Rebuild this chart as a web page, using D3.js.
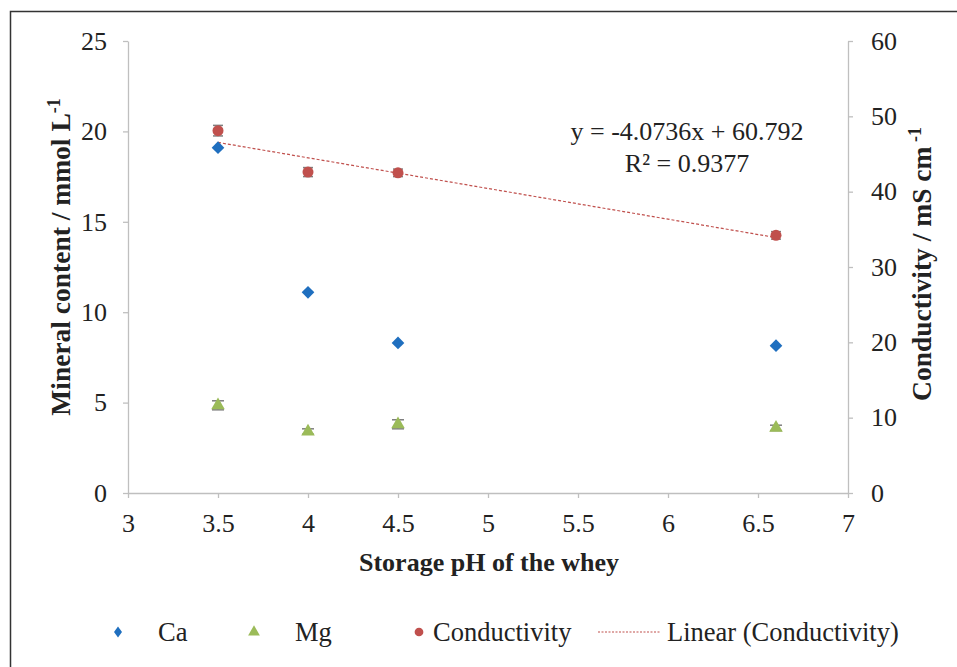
<!DOCTYPE html>
<html>
<head>
<meta charset="utf-8">
<script src="https://cdn.jsdelivr.net/npm/d3@7"></script>
<style>
  body { margin: 0; background: #fff; }
  svg { display: block; font-family: "Liberation Serif", "Times New Roman", serif; }
</style>
</head>
<body>
<svg></svg>
<script>
// Chart data
const phValues = [3.5, 4, 4.5, 6.6];
const caValues = [19.1, 11.1, 8.3, 8.15];
const caErrors = [0.12, 0.1, 0.1, 0.1];
const mgValues = [4.85, 3.4, 3.8, 3.6];
const mgErrors = [0.25, 0.15, 0.25, 0.15];
const condValues = [48.1, 42.6, 42.5, 34.2];
const condErrors = [0.7, 0.6, 0.5, 0.5];
const trendSlope = -4.0736;
const trendIntercept = 60.792;
const xTicks = [3, 3.5, 4, 4.5, 5, 5.5, 6, 6.5, 7];
const leftTicks = [0, 5, 10, 15, 20, 25];
const rightTicks = [0, 10, 20, 30, 40, 50, 60];

const width = 957;
const height = 667;
const fontSize = "26px";
const titleSize = "27.5px";
const serif = "'Liberation Serif', 'Times New Roman', serif";

const svg = d3.select("svg")
    .attr("width", width)
    .attr("height", height);

// Outer frame (runs off the right and bottom edges)
svg.append("rect")
    .attr("x", 10.5)
    .attr("y", 11.5)
    .attr("width", width)
    .attr("height", height)
    .attr("fill", "none")
    .attr("stroke", "#333")
    .attr("stroke-width", 1.5);

// Scales
const x = d3.scaleLinear().domain([3, 7]).range([128, 848]);
const yLeft = d3.scaleLinear().domain([0, 25]).range([493, 41]);
const yRight = d3.scaleLinear().domain([0, 60]).range([493, 41]);

const axisColor = "#bfbfbf";

function styleAxis(g) {
    g.attr("font-family", serif).attr("font-size", fontSize);
    g.selectAll("path").attr("stroke", axisColor).attr("stroke-width", 1.3);
    g.selectAll("line").attr("stroke", axisColor).attr("stroke-width", 1.3);
    g.selectAll("text").attr("fill", "#222");
}

// X axis
svg.append("g")
    .attr("transform", "translate(0,493)")
    .call(d3.axisBottom(x).tickValues(xTicks).tickSize(5).tickSizeOuter(0).tickPadding(16).tickFormat(d3.format("")))
    .call(styleAxis);

// Left axis
svg.append("g")
    .attr("transform", "translate(128,0)")
    .call(d3.axisLeft(yLeft).tickValues(leftTicks).tickSize(5).tickSizeOuter(0).tickPadding(16))
    .call(styleAxis);

// Right axis
svg.append("g")
    .attr("transform", "translate(848,0)")
    .call(d3.axisRight(yRight).tickValues(rightTicks).tickSize(5).tickSizeOuter(0).tickPadding(18))
    .call(styleAxis);

// Axis titles
svg.append("text")
    .attr("x", 489)
    .attr("y", 571)
    .attr("text-anchor", "middle")
    .style("font-size", fontSize)
    .style("font-weight", "bold")
    .attr("fill", "#222")
    .text("Storage pH of the whey");

const leftTitle = svg.append("text")
    .attr("transform", "translate(70,257) rotate(-90)")
    .attr("text-anchor", "middle")
    .style("font-size", titleSize)
    .style("font-weight", "bold")
    .attr("fill", "#222");
leftTitle.append("tspan").text("Mineral content / mmol L");
leftTitle.append("tspan").attr("dy", -10).style("font-size", "18px").text("-1");

const rightTitle = svg.append("text")
    .attr("transform", "translate(931,264) rotate(-90)")
    .attr("text-anchor", "middle")
    .style("font-size", titleSize)
    .style("font-weight", "bold")
    .attr("fill", "#222");
rightTitle.append("tspan").text("Conductivity / mS cm");
rightTitle.append("tspan").attr("dy", -10).style("font-size", "18px").text(" -1");

// Colors
const caColor = "#1f6fbf";
const mgColor = "#9bbb59";
const condColor = "#c0504d";
const errColor = "#7f7f7f";

// Error bars
function drawErrors(values, errors, yScale, capHalf) {
    const g = svg.append("g");
    values.forEach((v, i) => {
        const cx = x(phValues[i]);
        const y1 = yScale(v + errors[i]);
        const y2 = yScale(v - errors[i]);
        g.append("line").attr("x1", cx).attr("x2", cx).attr("y1", y1).attr("y2", y2)
            .attr("stroke", errColor).attr("stroke-width", 1.2);
        [y1, y2].forEach(yy => {
            g.append("line").attr("x1", cx - capHalf).attr("x2", cx + capHalf).attr("y1", yy).attr("y2", yy)
                .attr("stroke", errColor).attr("stroke-width", 1.5);
        });
    });
}
drawErrors(caValues, caErrors, yLeft, 2);
drawErrors(mgValues, mgErrors, yLeft, 6);
drawErrors(condValues, condErrors, yRight, 5);

// Trendline
svg.append("line")
    .attr("x1", x(3.5))
    .attr("y1", yRight(trendSlope * 3.5 + trendIntercept))
    .attr("x2", x(6.6))
    .attr("y2", yRight(trendSlope * 6.6 + trendIntercept))
    .attr("stroke", condColor)
    .attr("stroke-width", 1.2)
    .attr("stroke-dasharray", "3,2");

// Markers
const diamond = d3.symbol().type(d3.symbolSquare).size(80);
const triangle = d3.symbol().type(d3.symbolTriangle).size(80);
const circle = d3.symbol().type(d3.symbolCircle).size(95);

svg.append("g").selectAll("path")
    .data(caValues)
    .enter()
    .append("path")
    .attr("d", diamond)
    .attr("transform", (d, i) => `translate(${x(phValues[i])},${yLeft(d)}) rotate(45)`)
    .attr("fill", caColor);

svg.append("g").selectAll("path")
    .data(mgValues)
    .enter()
    .append("path")
    .attr("d", triangle)
    .attr("transform", (d, i) => `translate(${x(phValues[i])},${yLeft(d)})`)
    .attr("fill", mgColor);

svg.append("g").selectAll("path")
    .data(condValues)
    .enter()
    .append("path")
    .attr("d", circle)
    .attr("transform", (d, i) => `translate(${x(phValues[i])},${yRight(d)})`)
    .attr("fill", condColor);

// Trend equation
svg.append("text")
    .attr("x", 687)
    .attr("y", 140)
    .attr("text-anchor", "middle")
    .style("font-size", fontSize)
    .attr("fill", "#222")
    .text(`y = ${trendSlope}x + ${trendIntercept}`);
svg.append("text")
    .attr("x", 687)
    .attr("y", 172)
    .attr("text-anchor", "middle")
    .style("font-size", fontSize)
    .attr("fill", "#222")
    .text("R² = 0.9377");

// Legend
const legendY = 632;
const legendSize = "26.5px";
const legend = svg.append("g");
legend.append("path").attr("d", d3.symbol().type(d3.symbolSquare).size(50))
    .attr("transform", `translate(118,${legendY}) scale(0.8,1.1) rotate(45)`).attr("fill", caColor);
legend.append("text").attr("x", 158).attr("y", legendY + 9).style("font-size", legendSize).attr("fill", "#222").text("Ca");
legend.append("path").attr("d", d3.symbol().type(d3.symbolTriangle).size(60))
    .attr("transform", `translate(254,${legendY})`).attr("fill", mgColor);
legend.append("text").attr("x", 295).attr("y", legendY + 9).style("font-size", legendSize).attr("fill", "#222").text("Mg");
legend.append("path").attr("d", d3.symbol().type(d3.symbolCircle).size(60))
    .attr("transform", `translate(419,${legendY})`).attr("fill", condColor);
legend.append("text").attr("x", 433).attr("y", legendY + 9).style("font-size", legendSize).attr("fill", "#222").text("Conductivity");
legend.append("line").attr("x1", 598).attr("x2", 660).attr("y1", legendY).attr("y2", legendY)
    .attr("stroke", condColor).attr("stroke-width", 1.2).attr("stroke-dasharray", "2,1.5");
legend.append("text").attr("x", 667).attr("y", legendY + 9).style("font-size", legendSize).attr("fill", "#222").text("Linear (Conductivity)");
</script>
</body>
</html>
